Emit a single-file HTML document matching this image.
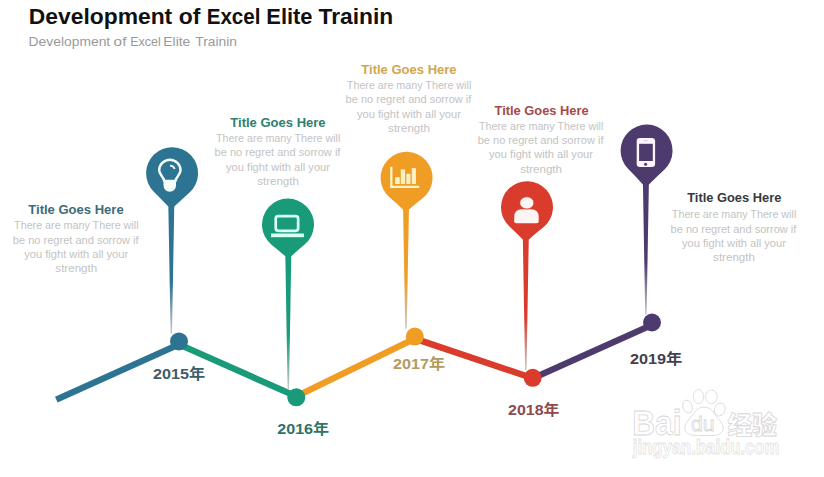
<!DOCTYPE html>
<html><head><meta charset="utf-8"><style>
html,body{margin:0;padding:0;background:#fff;}
body{width:824px;height:477px;overflow:hidden;position:relative;}
svg{position:absolute;left:0;top:0;}
.t{font-family:"Liberation Sans",sans-serif;font-weight:bold;font-size:13.5px;}
.b{font-family:"Liberation Sans",sans-serif;font-size:11px;fill:#c3c3c3;}
.y{font-family:"Liberation Sans","Noto Sans CJK SC",sans-serif;font-weight:bold;font-size:14.5px;}
.h1{font-family:"Liberation Sans",sans-serif;font-weight:bold;font-size:22px;fill:#111;}
.h2{font-family:"Liberation Sans",sans-serif;font-size:13px;fill:#9a9a9a;}
.wm text{font-family:"Liberation Sans",sans-serif;}
.wm *{fill:#fff;stroke:#d6d6d6;stroke-width:0.8;}
.wm .wm2{stroke:#e2e2e2;}
.wm .cj{font-family:"Liberation Sans","Noto Sans CJK SC",sans-serif;}
</style></head><body>
<svg width="824" height="477" viewBox="0 0 824 477">
<defs><linearGradient id="g0" x1="0" y1="206.0" x2="0" y2="333.5" gradientUnits="userSpaceOnUse"><stop offset="0" stop-color="#2d7392"/><stop offset="0.6" stop-color="#2d7392"/><stop offset="1" stop-color="#c8c8c8"/></linearGradient><linearGradient id="g1" x1="0" y1="255.7" x2="0" y2="389.5" gradientUnits="userSpaceOnUse"><stop offset="0" stop-color="#199a79"/><stop offset="0.6" stop-color="#199a79"/><stop offset="1" stop-color="#c8c8c8"/></linearGradient><linearGradient id="g2" x1="0" y1="208.9" x2="0" y2="328.8" gradientUnits="userSpaceOnUse"><stop offset="0" stop-color="#f09d25"/><stop offset="0.6" stop-color="#f09d25"/><stop offset="1" stop-color="#c8c8c8"/></linearGradient><linearGradient id="g3" x1="0" y1="238.9" x2="0" y2="370.0" gradientUnits="userSpaceOnUse"><stop offset="0" stop-color="#d93b2d"/><stop offset="0.6" stop-color="#d93b2d"/><stop offset="1" stop-color="#c8c8c8"/></linearGradient><linearGradient id="g4" x1="0" y1="183.9" x2="0" y2="314.7" gradientUnits="userSpaceOnUse"><stop offset="0" stop-color="#4e3b6d"/><stop offset="0.6" stop-color="#4e3b6d"/><stop offset="1" stop-color="#c8c8c8"/></linearGradient></defs>
<line x1="56.3" y1="399.6" x2="179.0" y2="344.4" stroke="#2d7392" stroke-width="6.4"/>
<line x1="179.0" y1="344.4" x2="296.3" y2="396.4" stroke="#199a79" stroke-width="6.4"/>
<line x1="296.3" y1="396.4" x2="414.8" y2="338.6" stroke="#f09d25" stroke-width="6.4"/>
<line x1="414.8" y1="338.6" x2="532.7" y2="378.3" stroke="#d93b2d" stroke-width="6.4"/>
<line x1="532.7" y1="378.3" x2="652.0" y2="324.8" stroke="#4e3b6d" stroke-width="6.4"/>
<path d="M168.30,204.00 L174.30,204.00 L172.00,333.50 L170.60,333.50 Z" fill="url(#g0)"/>
<path d="M153.82,191.69 A26,26 0 1 1 189.35,192.65 Q181.83,199.33 174.30,206.50 L168.30,206.50 Q161.06,198.85 153.82,191.69 Z" fill="#2d7392"/>
<path d="M285.30,253.70 L291.30,253.70 L289.00,389.50 L287.60,389.50 Z" fill="url(#g1)"/>
<path d="M271.79,244.93 A26,26 0 1 1 304.65,244.57 Q297.97,250.13 291.30,256.20 L285.30,256.20 Q278.55,250.31 271.79,244.93 Z" fill="#199a79"/>
<path d="M403.00,206.90 L409.00,206.90 L406.70,328.80 L405.30,328.80 Z" fill="url(#g2)"/>
<path d="M389.73,197.58 A26,26 0 1 1 422.59,198.30 Q415.79,203.60 409.00,209.40 L403.00,209.40 Q396.36,203.24 389.73,197.58 Z" fill="#f09d25"/>
<path d="M522.80,236.90 L528.80,236.90 L526.50,370.00 L525.10,370.00 Z" fill="url(#g3)"/>
<path d="M509.22,226.17 A26,26 0 1 1 543.11,227.61 Q535.95,233.26 528.80,239.40 L522.80,239.40 Q516.01,232.53 509.22,226.17 Z" fill="#d93b2d"/>
<path d="M642.90,181.90 L648.90,181.90 L646.60,314.70 L645.20,314.70 Z" fill="url(#g4)"/>
<path d="M628.07,168.84 A26,26 0 1 1 664.26,169.68 Q656.58,176.79 648.90,184.40 L642.90,184.40 Q635.49,176.37 628.07,168.84 Z" fill="#4e3b6d"/>
<circle cx="179.0" cy="341.4" r="9" fill="#2d7392"/>
<circle cx="296.3" cy="397.3" r="9" fill="#199a79"/>
<circle cx="414.8" cy="336.6" r="9" fill="#f09d25"/>
<circle cx="532.7" cy="377.8" r="9" fill="#d93b2d"/>
<circle cx="652.0" cy="322.5" r="9" fill="#4e3b6d"/>
<path d="M164.2,181 C164.2,177.3 159.15,174.8 159.15,170.35 A10.7,10.7 0 0 1 180.55,170.35 C180.55,174.8 175.5,177.3 175.5,181 Z" fill="none" stroke="#f4fffd" stroke-width="2.5" stroke-linejoin="round"/><path d="M163.5,181.5 H176 V185.6 A6.25,6.25 0 0 1 163.5,185.6 Z" fill="#f4fffd"/><path d="M170,165.6 A5,5 0 0 1 174.7,169" fill="none" stroke="#f4fffd" stroke-width="1.8"/>
<rect x="275.75" y="216.05" width="22.4" height="14.8" rx="2.5" fill="none" stroke="#d8fff4" stroke-width="2.7"/><rect x="271" y="233.5" width="32.9" height="3.7" fill="#d8fff4"/>
<path d="M391.3,166.7 V186.8 H419.2" fill="none" stroke="#fff2c4" stroke-width="2.3"/><rect x="395.1" y="177.1" width="4.6" height="6.9" fill="#fff2c4"/><rect x="400.8" y="169.4" width="4.3" height="14.6" fill="#fff2c4"/><rect x="406.4" y="173.8" width="4.1" height="10.2" fill="#fff2c4"/><rect x="411.8" y="168.1" width="4.1" height="15.9" fill="#fff2c4"/>
<path d="M514.2,221.2 V217 Q514.2,209.2 522,209.2 H530.9 Q538.7,209.2 538.7,217 V221.2 Q538.7,223.2 536.7,223.2 H516.2 Q514.2,223.2 514.2,221.2 Z" fill="#fff4f4"/><ellipse cx="526.8" cy="202.9" rx="7.1" ry="6.1" fill="#fff4f4" stroke="#d93b2d" stroke-width="0.8"/>
<rect x="636.7" y="138" width="18.4" height="28.9" rx="3.2" fill="#fbf6ff"/><rect x="639.1" y="143.8" width="13.7" height="17.2" fill="#4e3b6d"/><circle cx="645.6" cy="164.3" r="1.5" fill="#4e3b6d"/><rect x="643.6" y="140.4" width="4" height="0.9" fill="#c9bfd6"/>
<text x="28.85" y="23.7" class="h1" textLength="143.39" lengthAdjust="spacingAndGlyphs">Development</text>
<text x="178.67" y="23.7" class="h1" textLength="21.66" lengthAdjust="spacingAndGlyphs">of</text>
<text x="206.69" y="23.7" class="h1" textLength="53.72" lengthAdjust="spacingAndGlyphs">Excel</text>
<text x="266.31" y="23.7" class="h1" textLength="46.22" lengthAdjust="spacingAndGlyphs">Elite</text>
<text x="318.59" y="23.7" class="h1" textLength="74.69" lengthAdjust="spacingAndGlyphs">Trainin</text>
<text x="28.63" y="45.9" class="h2" textLength="81.58" lengthAdjust="spacingAndGlyphs">Development</text>
<text x="113.61" y="45.9" class="h2" textLength="12.79" lengthAdjust="spacingAndGlyphs">of</text>
<text x="130.14" y="45.9" class="h2" textLength="30.62" lengthAdjust="spacingAndGlyphs">Excel</text>
<text x="163.34" y="45.9" class="h2" textLength="26.93" lengthAdjust="spacingAndGlyphs">Elite</text>
<text x="195.19" y="45.9" class="h2" textLength="41.80" lengthAdjust="spacingAndGlyphs">Trainin</text>
<text x="28.30" y="214.0" class="t" fill="#3f6a7b" textLength="95.39" lengthAdjust="spacingAndGlyphs">Title Goes Here</text>
<text x="14.11" y="229.0" class="b" textLength="124.42" lengthAdjust="spacingAndGlyphs">There are many There will</text>
<text x="12.80" y="243.6" class="b" textLength="125.86" lengthAdjust="spacingAndGlyphs">be no regret and sorrow if</text>
<text x="24.20" y="257.6" class="b" textLength="103.97" lengthAdjust="spacingAndGlyphs">you fight with all your</text>
<text x="55.38" y="271.8" class="b" textLength="41.76" lengthAdjust="spacingAndGlyphs">strength</text>
<text x="230.30" y="126.6" class="t" fill="#2f8070" textLength="95.29" lengthAdjust="spacingAndGlyphs">Title Goes Here</text>
<text x="215.91" y="141.9" class="b" textLength="124.42" lengthAdjust="spacingAndGlyphs">There are many There will</text>
<text x="214.60" y="156.4" class="b" textLength="125.86" lengthAdjust="spacingAndGlyphs">be no regret and sorrow if</text>
<text x="226.00" y="170.8" class="b" textLength="103.97" lengthAdjust="spacingAndGlyphs">you fight with all your</text>
<text x="257.18" y="185.0" class="b" textLength="41.76" lengthAdjust="spacingAndGlyphs">strength</text>
<text x="361.30" y="73.5" class="t" fill="#d2a64c" textLength="95.29" lengthAdjust="spacingAndGlyphs">Title Goes Here</text>
<text x="346.86" y="88.8" class="b" textLength="124.42" lengthAdjust="spacingAndGlyphs">There are many There will</text>
<text x="345.55" y="103.3" class="b" textLength="125.86" lengthAdjust="spacingAndGlyphs">be no regret and sorrow if</text>
<text x="356.95" y="117.6" class="b" textLength="103.97" lengthAdjust="spacingAndGlyphs">you fight with all your</text>
<text x="388.13" y="132.0" class="b" textLength="41.76" lengthAdjust="spacingAndGlyphs">strength</text>
<text x="494.50" y="114.5" class="t" fill="#a34a4a" textLength="94.18" lengthAdjust="spacingAndGlyphs">Title Goes Here</text>
<text x="478.96" y="129.8" class="b" textLength="124.42" lengthAdjust="spacingAndGlyphs">There are many There will</text>
<text x="477.65" y="144.1" class="b" textLength="125.86" lengthAdjust="spacingAndGlyphs">be no regret and sorrow if</text>
<text x="489.05" y="158.3" class="b" textLength="103.97" lengthAdjust="spacingAndGlyphs">you fight with all your</text>
<text x="520.23" y="172.6" class="b" textLength="41.76" lengthAdjust="spacingAndGlyphs">strength</text>
<text x="687.20" y="202.4" class="t" fill="#383840" textLength="94.18" lengthAdjust="spacingAndGlyphs">Title Goes Here</text>
<text x="671.86" y="218.2" class="b" textLength="124.42" lengthAdjust="spacingAndGlyphs">There are many There will</text>
<text x="670.55" y="232.5" class="b" textLength="125.86" lengthAdjust="spacingAndGlyphs">be no regret and sorrow if</text>
<text x="681.95" y="246.7" class="b" textLength="103.97" lengthAdjust="spacingAndGlyphs">you fight with all your</text>
<text x="713.13" y="261.0" class="b" textLength="41.76" lengthAdjust="spacingAndGlyphs">strength</text>
<text x="153.04" y="378.8" class="y" fill="#3d5d6c" textLength="52.11" lengthAdjust="spacingAndGlyphs">2015年</text>
<text x="277.24" y="433.8" class="y" fill="#2f7468" textLength="51.91" lengthAdjust="spacingAndGlyphs">2016年</text>
<text x="393.04" y="369.3" class="y" fill="#b39a5e" textLength="52.11" lengthAdjust="spacingAndGlyphs">2017年</text>
<text x="508.05" y="414.8" class="y" fill="#8f4a4c" textLength="51.50" lengthAdjust="spacingAndGlyphs">2018年</text>
<text x="629.94" y="363.7" class="y" fill="#45404f" textLength="52.42" lengthAdjust="spacingAndGlyphs">2019年</text>
<g class="wm"><text x="632.2" y="434.8" font-size="35" font-weight="bold" textLength="49.4" lengthAdjust="spacingAndGlyphs">Bai</text><ellipse cx="687.5" cy="406.6" rx="4.6" ry="6.6" transform="rotate(-20 687.5 406.6)"/><ellipse cx="698.5" cy="396.5" rx="5.2" ry="7"/><ellipse cx="711.4" cy="396.8" rx="5.8" ry="6.8"/><ellipse cx="719.8" cy="409.5" rx="5.2" ry="6.6" transform="rotate(20 719.8 409.5)"/><path d="M696,435.5 H713 C722,435.5 726,429 721,422 L712,410.5 C708,406 700,406 696,410.5 L687,422 C682,429 686,435.5 696,435.5 Z"/><text x="702.8" y="431.1" font-size="21" textLength="23.6" lengthAdjust="spacingAndGlyphs" text-anchor="middle">du</text><text x="727.4" y="433.6" font-size="25" font-weight="900" textLength="49.5" lengthAdjust="spacingAndGlyphs" class="cj">经验</text><text x="632.8" y="454.4" font-size="19.5" font-weight="bold" textLength="146.6" lengthAdjust="spacingAndGlyphs" class="wm2">jingyan.baidu.com</text></g>
</svg>
</body></html>
